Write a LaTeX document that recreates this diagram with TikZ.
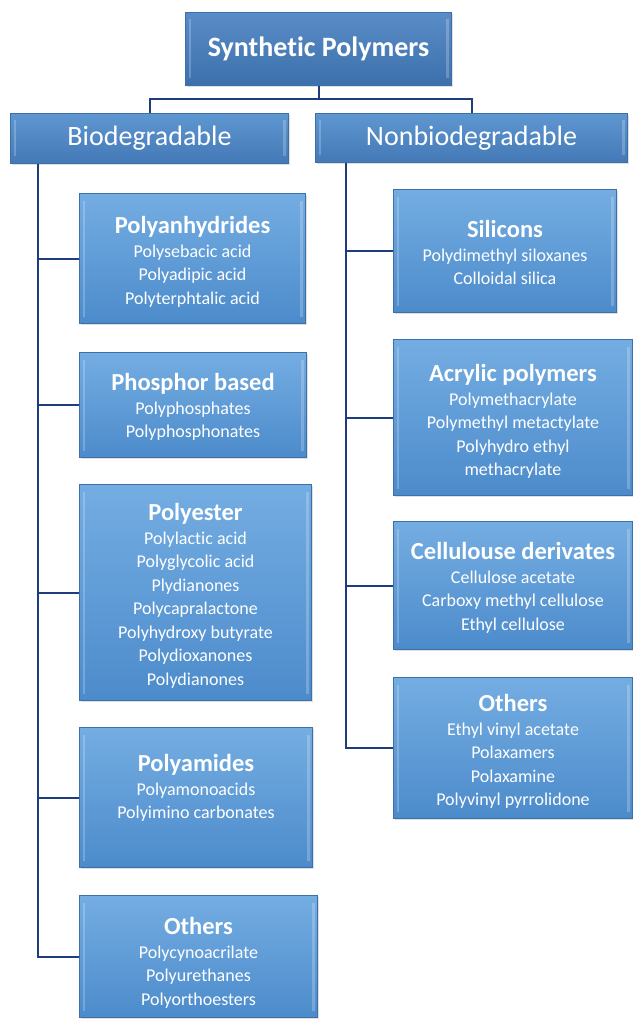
\documentclass[tikz,border=0pt]{standalone}
\usepackage{fontspec}
\setmainfont{Carlito}[Ligatures={NoCommon}]
\usetikzlibrary{shadows}
\definecolor{linec}{HTML}{1F3C7C}
\definecolor{boxtop}{HTML}{74ADE2}
\definecolor{boxbot}{HTML}{4C8BCB}
\definecolor{boxedge}{HTML}{3E70A8}
\definecolor{headtop}{HTML}{5F97D1}
\definecolor{headbot}{HTML}{4379B6}
\definecolor{toptop}{HTML}{5A8DC7}
\definecolor{topbot}{HTML}{3C70AC}
\newcommand\grptitle[1]{{\fontsize{24.5}{25}\selectfont\bfseries #1}}
\begin{document}
\begin{tikzpicture}[x=1pt,y=-1pt,
  bevel/.style={path picture={
    \fill[white,opacity=0.22] ([xshift=3pt,yshift=-7pt]path picture bounding box.north west) rectangle ([xshift=5.5pt,yshift=7pt]path picture bounding box.south west);
    \fill[white,opacity=0.22] ([xshift=-3pt,yshift=-7pt]path picture bounding box.north east) rectangle ([xshift=-5.5pt,yshift=7pt]path picture bounding box.south east);}},
  basebox/.style={draw=boxedge, line width=1pt, anchor=north west, inner sep=0pt, bevel,
    drop shadow={opacity=0.25, shadow xshift=1.5pt, shadow yshift=-1.5pt}},
  grpbox/.style={basebox, top color=boxtop, bottom color=boxbot},
  headbox/.style={basebox, top color=headtop, bottom color=headbot, text=white, font=\fontsize{28}{30}\selectfont},
  topbox/.style={basebox, top color=toptop, bottom color=topbot, text=white, font=\fontsize{28}{30}\selectfont\bfseries},
  grptext/.style={anchor=north, align=center, text=white, inner sep=0pt, font=\fontsize{18}{23.5}\selectfont},
  conn/.style={draw=linec, line width=2pt}
]
\useasboundingbox (0,0) rectangle (632,1019);

\node[topbox, minimum width=266pt, minimum height=73pt] (top) at (185,12) {Synthetic Polymers};
\node[headbox, minimum width=278pt, minimum height=50pt] (bio) at (10,113) {Biodegradable};
\node[headbox, minimum width=312pt, minimum height=49pt] (nb) at (315,113) {Nonbiodegradable};

\node[grpbox, minimum width=226pt, minimum height=130pt] (pa) at (79,193) {};
\node[grpbox, minimum width=227pt, minimum height=105pt] (ph) at (79,352) {};
\node[grpbox, minimum width=232pt, minimum height=216pt] (pe) at (79,484) {};
\node[grpbox, minimum width=233pt, minimum height=140pt] (pm) at (79,727) {};
\node[grpbox, minimum width=238pt, minimum height=122pt] (lo) at (79,895) {};

\node[grpbox, minimum width=223pt, minimum height=123pt] (si) at (393,189) {};
\node[grpbox, minimum width=239pt, minimum height=156pt] (ac) at (393,339) {};
\node[grpbox, minimum width=239pt, minimum height=128pt] (ce) at (393,521) {};
\node[grpbox, minimum width=239pt, minimum height=141pt] (ro) at (393,677) {};

\node[grptext] (pat) at ([yshift=-23.5pt]pa.north) {\grptitle{Polyanhydrides}\\Polysebacic acid\\Polyadipic acid\\Polyterphtalic acid};
\node[grptext] (pht) at ([yshift=-21.5pt]ph.north) {\grptitle{Phosphor based}\\Polyphosphates\\Polyphosphonates};
\node[grptext] (pet) at ([yshift=-19.5pt]pe.north) {\grptitle{Polyester}\\Polylactic acid\\Polyglycolic acid\\Plydianones\\Polycapralactone\\Polyhydroxy butyrate\\Polydioxanones\\Polydianones};
\node[grptext] (pmt) at ([yshift=-27.5pt]pm.north) {\grptitle{Polyamides}\\Polyamonoacids\\Polyimino carbonates};
\node[grptext] (lot) at ([yshift=-22.5pt]lo.north) {\grptitle{Others}\\Polycynoacrilate\\Polyurethanes\\Polyorthoesters};

\node[grptext] (sit) at ([yshift=-31.5pt]si.north) {\grptitle{Silicons}\\Polydimethyl siloxanes\\Colloidal silica};
\node[grptext] (act) at ([yshift=-25.5pt]ac.north) {\grptitle{Acrylic polymers}\\Polymethacrylate\\Polymethyl metactylate\\Polyhydro ethyl\\methacrylate};
\node[grptext] (cet) at ([yshift=-21.5pt]ce.north) {\grptitle{Cellulouse derivates}\\Cellulose acetate\\Carboxy methyl cellulose\\Ethyl cellulose};
\node[grptext] (rot) at ([yshift=-17.5pt]ro.north) {\grptitle{Others}\\Ethyl vinyl acetate\\Polaxamers\\Polaxamine\\Polyvinyl pyrrolidone};

% connectors
\draw[conn] (top.south) -- ++(0,13) coordinate (j);
\draw[conn] (bio.north) |- (j) -| (nb.north);

\coordinate (ls) at ([xshift=28pt]bio.south west);
\draw[conn] (ls) |- (lo.west);
\foreach \b in {pa,ph,pe,pm} \draw[conn] (ls |- \b.west) -- (\b.west);

\coordinate (rs) at ([xshift=31pt]nb.south west);
\draw[conn] (rs) |- (ro.west);
\foreach \b in {si,ac,ce} \draw[conn] (rs |- \b.west) -- (\b.west);
\end{tikzpicture}
\end{document}
